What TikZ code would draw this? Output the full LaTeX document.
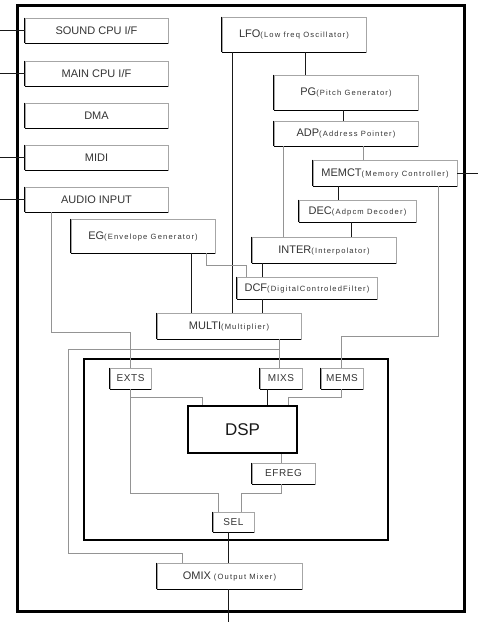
\documentclass[tikz,border=0pt]{standalone}
\usepackage{fontspec}
\setmainfont{Liberation Sans}
\newfontfamily\lblfont[LetterSpace=15]{Liberation Sans}
\newfontfamily\capfont[LetterSpace=6]{Liberation Sans}
\newcommand\sm[1]{{\fontsize{7.6}{8}\lblfont #1}}
\begin{document}
\begin{tikzpicture}[x=1pt,y=-1pt,
  blkedge/.style={draw=black, line width=0.8pt},
  blk/.style={rectangle, draw=black!35, line width=0.8pt, inner sep=0pt,
    text=black!80, font=\fontsize{11}{13}\selectfont,
    append after command={(\tikzlastnode.north west) edge[blkedge] (\tikzlastnode.south west)
      (\tikzlastnode.south west) edge[blkedge] (\tikzlastnode.south east)}},
  sblk/.style={blk, font=\fontsize{10}{12}\capfont},
  wk/.style={draw=black!90, line width=0.8pt},
  wg/.style={draw=black!42, line width=0.8pt},
  frameA/.style={rectangle, draw=black, line width=3pt, inner sep=0pt},
  frameB/.style={rectangle, draw=black, line width=2pt, inner sep=0pt},
  dspbox/.style={rectangle, draw=black, line width=2.6pt, inner sep=0pt,
    font=\fontsize{17}{20}\selectfont, text=black!90}
]
\useasboundingbox (0,0) rectangle (478,622);

% frames
\node[frameA, minimum width=447.5pt, minimum height=605.5pt] (outer) at (240.75,308.25) {};
\node[frameB, minimum width=304pt, minimum height=181pt] (inner) at (236,449.5) {};

% left column
\node[blk, minimum width=143pt, minimum height=25pt] (sound) at (96.5,30.5) {SOUND CPU I/F};
\node[blk, minimum width=143pt, minimum height=25pt] (main) at (96.5,73.5) {MAIN CPU I/F};
\node[blk, minimum width=143pt, minimum height=25pt] (dma) at (96.5,115.5) {DMA};
\node[blk, minimum width=143pt, minimum height=25pt] (midi) at (96.5,157.5) {MIDI};
\node[blk, minimum width=143pt, minimum height=25pt] (audio) at (96.5,199.5) {AUDIO INPUT};

% generator chain
\node[blk, minimum width=144pt, minimum height=35pt] (lfo) at (294,34.5) {LFO\sm{(Low freq Oscillator)}};
\node[blk, minimum width=144pt, minimum height=35pt] (pg) at (346,92.5) {PG\sm{(Pitch Generator)}};
\node[blk, minimum width=144pt, minimum height=25pt] (adp) at (346,133.5) {ADP\sm{(Address Pointer)}};
\node[blk, minimum width=144pt, minimum height=26pt] (memct) at (385,173) {MEMCT\sm{(Memory Controller)}};
\node[blk, minimum width=117pt, minimum height=22pt] (dec) at (357.5,211) {DEC\sm{(Adpcm Decoder)}};
\node[blk, minimum width=144pt, minimum height=34pt] (eg) at (143,236) {EG\sm{(Envelope Generator)}};
\node[blk, minimum width=144pt, minimum height=26pt] (inter) at (324,250) {INTER\sm{(Interpolator)}};
\node[blk, minimum width=140pt, minimum height=22pt] (dcf) at (307,288) {DCF\sm{(DigitalControledFilter)}};
\node[blk, minimum width=144pt, minimum height=26pt] (multi) at (229,326) {MULTI\sm{(Multiplier)}};

% DSP block
\node[sblk, minimum width=41pt, minimum height=21pt] (exts) at (130.5,378.5) {EXTS};
\node[sblk, minimum width=42pt, minimum height=21pt] (mixs) at (281,378.5) {MIXS};
\node[sblk, minimum width=42pt, minimum height=21pt] (mems) at (342,378.5) {MEMS};
\node[dspbox, minimum width=109pt, minimum height=47pt] (dsp) at (242.5,429.5) {DSP};
\node[sblk, minimum width=63pt, minimum height=21pt] (efreg) at (283.5,473.5) {EFREG};
\node[sblk, minimum width=41pt, minimum height=20pt] (sel) at (233.5,522) {SEL};
\node[blk, minimum width=145pt, minimum height=26pt] (omix) at (229.5,576) {OMIX \sm{(Output Mixer)}};

% external terminals
\coordinate (tSound) at (0,30.5);
\coordinate (tMain) at (0,73.5);
\coordinate (tMidi) at (0,157.5);
\coordinate (tAudio) at (0,199.5);
\coordinate (tMem) at (478,173);
\coordinate (tOut) at (228,622);
\draw[wk] (tSound) -- (sound.west);
\draw[wk] (tMain) -- (main.west);
\draw[wk] (tMidi) -- (midi.west);
\draw[wk] (tAudio) -- (audio.west);
\draw[wk] (memct.east) -- (tMem);
\draw[wk] (omix.south -| tOut) -- (tOut);

% connectors
\draw[wk] (lfo.south -| 232,0) -- (multi.north -| 232,0);
\draw[wk] (lfo.south -| 305,0) -- (pg.north -| 305,0);
\draw[wk] (pg.south -| 343,0) -- (adp.north -| 343,0);
\draw[wg] (adp.south -| 363,0) -- (memct.north -| 363,0);
\draw[wg] (adp.south -| 283,0) -- (inter.north -| 283,0);
\draw[wk] (memct.south -| 338,0) -- (dec.north -| 338,0);
\draw[wk] (dec.south -| 351,0) -- (inter.north -| 351,0);
\draw[wk] (inter.south -| 262,0) -- (dcf.north -| 262,0);
\draw[wk] (dcf.south -| 262,0) -- (multi.north -| 262,0);
\draw[wk] (eg.south -| 191,0) -- (multi.north -| 191,0);
\draw[wg] (eg.south -| 206,0) -- (206,265) -- (246,265) -- (dcf.north -| 246,0);
\draw[wg] (audio.south -| 51,0) -- (51,332) -- (130,332) -- (exts.north -| 130,0);
\draw[wg] (memct.south -| 438,0) -- (438,336) -- (341,336) -- (mems.north -| 341,0);
\draw[wg] (multi.south -| 279,0) -- (mixs.north -| 279,0);
\coordinate (j1) at (279,349);
\draw[wg] (j1) -- (68,349) -- (68,553) -- (182,553) -- (omix.north -| 182,0);
\draw[wg] (exts.south -| 130,0) -- (130,397) -- (202,397) -- (dsp.north -| 202,0);
\draw[wg] (exts.south -| 130,0) -- (130,493) -- (218,493) -- (sel.north -| 218,0);
\draw[wk] (mixs.south -| 267,0) -- (dsp.north -| 267,0);
\draw[wg] (mems.south -| 341,0) -- (341,397) -- (288,397) -- (dsp.north -| 288,0);
\draw[wg] (dsp.south -| 281,0) -- (efreg.north -| 281,0);
\draw[wg] (efreg.south -| 281,0) -- (281,493) -- (241,493) -- (sel.north -| 241,0);
\draw[wk] (sel.south -| 228,0) -- (omix.north -| 228,0);
\end{tikzpicture}
\end{document}
